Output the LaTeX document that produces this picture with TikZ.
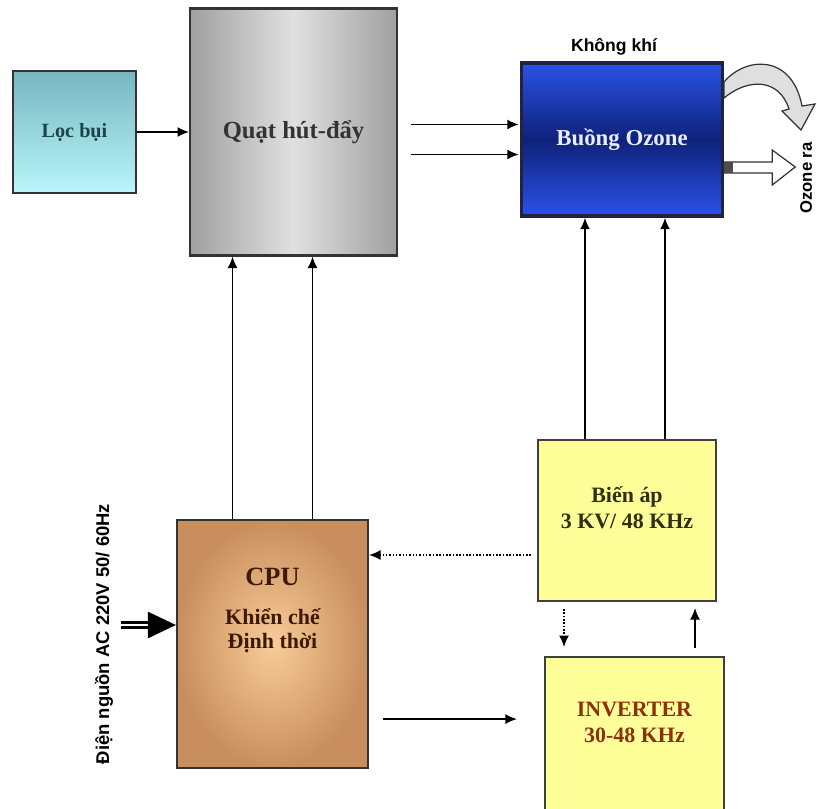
\documentclass[tikz,border=0pt]{standalone}
\usepackage{fontspec}
\setmainfont{Liberation Serif}
\setsansfont{Liberation Sans}
\usetikzlibrary{arrows,positioning,calc}
\usetikzlibrary{arrows.meta}
\definecolor{tealtop}{RGB}{118,182,192}
\definecolor{tealbot}{RGB}{186,246,250}
\definecolor{fangrey}{RGB}{160,160,160}
\definecolor{fanlight}{RGB}{224,224,224}
\definecolor{ozblue}{RGB}{42,82,232}
\definecolor{oznavy}{RGB}{14,34,122}
\definecolor{ozedge}{RGB}{32,36,66}
\definecolor{cpuin}{RGB}{248,204,152}
\definecolor{cpuout}{RGB}{200,142,94}
\definecolor{boxyellow}{RGB}{255,255,153}
\definecolor{loctext}{RGB}{28,68,72}
\definecolor{cputext}{RGB}{60,26,6}
\definecolor{yeltext}{RGB}{48,48,18}
\definecolor{invtext}{RGB}{140,48,10}
\tikzset{
    block/.style={
    draw=black!80,
    line width=1.2pt,
    inner sep=0pt
  },
    blocktext/.style={
    font=\bfseries\fontsize{12.5}{14.5}\selectfont,
    align=center
  },
    sidetext/.style={
    font=\sffamily\bfseries\fontsize{10}{12}\selectfont
  },
    wire/.style={
    ->,
    line width=0.9pt
  },
    hollow/.style={
    draw=black!80,
    line width=0.7pt,
    fill=white
  }
}

\begin{document}
\begin{tikzpicture}[x=0.02cm, y=-0.02cm, >={Latex[length=2.3mm, width=2mm]}]
  \useasboundingbox (0,0) rectangle (817,808);

  \node[block, minimum width=2.46cm, minimum height=2.44cm, top color=tealtop, bottom color=tealbot, blocktext, text=loctext, font=\bfseries\fontsize{11.5}{14}\selectfont] (loc_bui) at (74.5,132) {Lọc bụi};
  \node[block, minimum width=4.14cm, minimum height=4.94cm, left color=fangrey, right color=fangrey, middle color=fanlight, blocktext, text=black!80, font=\bfseries\fontsize{14}{16}\selectfont] (quat) [right=1.04cm of loc_bui] {Quạt hút-đẩy};
  \node[block, draw=ozedge, line width=2pt, minimum width=4.02cm, minimum height=3.06cm, top color=ozblue, bottom color=ozblue, middle color=oznavy, blocktext, text=blue!8, font=\bfseries\fontsize{13}{15}\selectfont] (buong) at (622,139.5) {Buồng Ozone};
  \node[sidetext] (khong_khi) at (614,47) {Không khí};

  \node[block, minimum width=3.56cm, minimum height=3.22cm, fill=boxyellow, draw=black!75] (bien_ap) at (627,520.5) {};
  \node[blocktext, text=yeltext] (bien_ap_t) at ([yshift=0.26cm]bien_ap.center) {Biến áp\\3 KV/ 48 KHz};
  \node[block, minimum width=3.58cm, minimum height=3.48cm, fill=boxyellow, draw=black!75] (inverter) [below=1.08cm of bien_ap, xshift=0.15cm] {};
  \node[blocktext, text=invtext] (inverter_t) at ([yshift=0.43cm]inverter.center) {INVERTER\\30-48 KHz};

  \node[block, minimum width=3.82cm, minimum height=4.96cm, shading=radial, inner color=cpuin, outer color=cpuout] (cpu) at (272.5,644) {};
  \node[blocktext, text=cputext, font=\bfseries\fontsize{15}{17}\selectfont] (cpu_t) at ([yshift=1.34cm]cpu.center) {CPU};
  \node[blocktext, text=cputext, font=\bfseries\fontsize{12.5}{13.5}\selectfont] (cpu_sub) at ([yshift=0.26cm]cpu.center) {Khiển chế\\Định thời};

  \node[sidetext, rotate=90, font=\sffamily\bfseries\fontsize{10.5}{12}\selectfont] (ac_in_t) at (104,634) {Điện nguồn AC 220V 50/ 60Hz};
  \node[sidetext, rotate=90, font=\sffamily\bfseries\fontsize{9.5}{12}\selectfont] (ozone_ra) at (806,178) {Ozone ra};
  \coordinate (ac_in) at (121,625);

  \draw[wire] (loc_bui) -- (quat);
  \draw[wire] ([xshift=0.26cm, yshift=0.3cm]quat.east |- buong.west) -- ([xshift=-0.02cm, yshift=0.3cm]buong.west);
  \draw[wire] ([xshift=0.26cm, yshift=-0.3cm]quat.east |- buong.west) -- ([xshift=-0.02cm, yshift=-0.3cm]buong.west);
  \draw[wire] ([xshift=-0.8cm]cpu.north) -- ([xshift=-0.8cm]cpu.north |- quat.south);
  \draw[wire] ([xshift=0.8cm]cpu.north) -- ([xshift=0.8cm]cpu.north |- quat.south);
  \draw[wire] ([xshift=-0.84cm]bien_ap.north) -- ([xshift=-0.84cm]bien_ap.north |- buong.south);
  \draw[wire] ([xshift=0.76cm]bien_ap.north) -- ([xshift=0.76cm]bien_ap.north |- buong.south);
  \draw[wire, densely dotted] ([xshift=-0.12cm, yshift=-0.69cm]bien_ap.west) -- ([yshift=-0.69cm]bien_ap.west -| cpu.east);
  \draw[wire, densely dotted] ([xshift=-1.26cm, yshift=-0.14cm]bien_ap.south) -- ([xshift=-1.26cm, yshift=0.18cm]bien_ap.south |- inverter.north);
  \draw[wire] ([xshift=1.36cm, yshift=0.16cm]bien_ap.south |- inverter.north) -- ([xshift=1.36cm, yshift=-0.12cm]bien_ap.south);
  \draw[wire] ([xshift=0.28cm, yshift=0.5cm]cpu.east |- inverter.west) -- ([xshift=-0.54cm, yshift=0.5cm]inverter.west);
  \draw[line width=1.3pt, double distance=1.5pt, -{Triangle[length=0.56cm, width=0.52cm]}] (ac_in) -- (ac_in -| cpu.west);

  \draw[hollow, fill=gray!25] (724,82) .. controls (746,56) and (792,54) .. (802,106) -- (815,104) -- (801,130) -- (782,111) -- (789,109) .. controls (779,78) and (748,78) .. (724,98) -- cycle;
  \draw[hollow] ([yshift=-0.45cm]buong.east) -- ++(48,0) -- ++(0,-12) -- ++(23,17) -- ++(-23,18) -- ++(0,-12) -- ++(-48,0) -- cycle;
  \fill[black!70] ([yshift=-0.45cm]buong.east) rectangle ++(9,11);
\end{tikzpicture}
\end{document}
